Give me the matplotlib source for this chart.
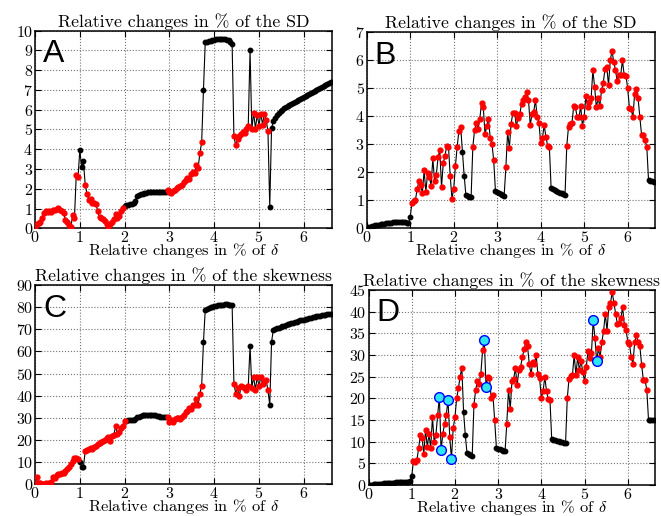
import numpy as np
import matplotlib
matplotlib.use("Agg")
import matplotlib.pyplot as plt

plt.rcParams['font.family'] = 'serif'
plt.rcParams['font.serif'] = ['cmr10', 'DejaVu Serif']
plt.rcParams['mathtext.fontset'] = 'cm'
plt.rcParams['axes.formatter.use_mathtext'] = True

# relative change of delta in %, one sample every 0.04
delta = np.round(np.arange(166) * 0.04, 2)

# --- panel A: relative change of the SD (%)
sd_A = [0.0, 0.2, 0.25, 0.3, 0.5, 0.76, 0.85, 0.8, 0.87, 0.82,
        0.95, 0.9, 1.0, 1.05, 0.9, 0.85, 0.76, 0.4, 0.34, 0.15,
        0.05, 0.67, 0.5, 2.7, 2.6, 3.95, 3.1, 3.4, 2.2, 1.75,
        1.45, 1.5, 1.3, 1.3, 1.25, 0.85, 0.55, 0.5, 0.45, 0.35,
        0.2, 0.05, 0.2, 0.3, 0.45, 0.7, 0.5, 0.6, 0.85, 1.05,
        1.15, 1.18, 1.2, 1.22, 1.24, 1.28, 1.38, 1.62, 1.7, 1.73,
        1.76, 1.78, 1.8, 1.82, 1.83, 1.84, 1.85, 1.86, 1.86, 1.86,
        1.86, 1.85, 1.84, 1.83, 1.95, 1.85, 1.8, 1.9, 1.95, 2.05,
        2.1, 2.15, 2.2, 2.35, 2.45, 2.55, 2.5, 2.75, 2.85, 2.8,
        3.2, 3.05, 3.8, 4.35, 7.0, 9.42, 9.45, 9.48, 9.5, 9.52,
        9.54, 9.56, 9.57, 9.58, 9.58, 9.58, 9.57, 9.55, 9.52, 9.45,
        9.32, 4.65, 4.2, 4.5, 4.65, 4.75, 4.85, 4.8, 5.0, 5.2,
        9.0, 5.0, 5.85, 5.05, 5.75, 5.2, 5.8, 5.25, 5.8, 5.5,
        4.9, 1.1, 5.06, 5.42, 5.6, 5.72, 5.83, 5.92, 6.0, 6.07,
        6.13, 6.19, 6.25, 6.31, 6.36, 6.41, 6.46, 6.51, 6.56, 6.61,
        6.66, 6.71, 6.76, 6.81, 6.86, 6.91, 6.96, 7.01, 7.06, 7.11,
        7.16, 7.21, 7.26, 7.3, 7.35, 7.39]
# 1 = red point, 0 = black point
flag_A = ("1111111111" "1111111111" "1111100011" "1111111111" "1111111111"
          "0000000000" "0000000000" "0000111111" "1111111111" "1111000000"
          "0000000000" "0111111111" "0111111111" "1000000000" "0000000000"
          "0000000000" "000000")

# --- panel B: relative change of the SD (%)
sd_B = [0.0, 0.015, 0.03, 0.05, 0.065, 0.08, 0.095, 0.11, 0.12, 0.135,
        0.145, 0.155, 0.165, 0.175, 0.18, 0.19, 0.195, 0.2, 0.205, 0.21,
        0.21, 0.205, 0.2, 0.18, 0.16, 0.38, 0.9, 0.95, 1.0, 1.38,
        1.67, 1.52, 1.25, 2.05, 1.28, 1.96, 1.82, 1.51, 2.48, 1.67,
        1.88, 2.53, 2.77, 1.45, 2.31, 2.58, 2.94, 2.9, 1.85, 1.04,
        1.4, 2.22, 2.9, 3.48, 3.62, 2.73, 1.87, 1.17, 1.14, 1.11,
        1.09, 2.9, 3.5, 3.74, 3.53, 3.9, 4.46, 4.34, 3.34, 3.66,
        3.9, 3.22, 3.0, 2.41, 1.31, 1.27, 1.24, 1.21, 1.18, 1.15,
        2.17, 3.43, 2.85, 3.72, 4.12, 4.12, 3.65, 3.92, 4.08, 4.42,
        4.57, 4.69, 4.87, 4.57, 3.68, 4.06, 4.16, 4.57, 3.98, 3.75,
        3.03, 3.2, 3.68, 3.26, 2.93, 2.89, 1.41, 1.38, 1.35, 1.32,
        1.29, 1.26, 1.23, 1.2, 1.17, 2.93, 3.62, 3.7, 3.76, 4.36,
        4.31, 3.95, 3.95, 4.36, 3.65, 3.98, 4.72, 4.31, 4.51, 4.63,
        5.64, 5.05, 4.31, 4.63, 4.36, 4.93, 5.2, 5.7, 5.76, 5.1,
        6.0, 6.33, 5.95, 5.64, 5.26, 5.47, 5.47, 6.0, 5.47, 5.45,
        5.0, 4.3, 4.27, 3.95, 4.79, 4.96, 4.63, 3.98, 3.32, 3.32,
        3.14, 2.9, 1.71, 1.69, 1.67, 1.65]
flag_B = ("0000000000" "0000000000" "0000001111" "1111111111" "1111111111"
          "1111100000" "0111111111" "1111000000" "1111111111" "1111111111"
          "1111110000" "0000011111" "1111111111" "1111111111" "1111111111"
          "1111111111" "110000")

# --- panel C: relative change of the skewness (%)
sk_C = [0.5, 3.2, 0.8, 0.5, 0.3, 0.2, 0.4, 0.3, 0.6, 1.2,
        3.5, 3.0, 4.0, 4.5, 4.8, 5.0, 5.2, 6.0, 6.8, 7.8,
        9.0, 10.5, 11.8, 12.0, 11.5, 10.3, 7.8, 7.8, 15.0, 15.3,
        15.8, 16.5, 16.0, 17.0, 17.5, 18.0, 18.5, 19.0, 19.5, 20.2,
        20.8, 21.5, 19.5, 22.0, 22.3, 26.3, 22.8, 23.5, 25.3, 26.5,
        28.5, 28.8, 28.9, 29.0, 29.0, 29.2, 29.6, 30.2, 30.6, 30.9,
        31.1, 31.3, 31.4, 31.5, 31.5, 31.4, 31.3, 31.1, 30.9, 30.7,
        30.5, 30.4, 30.3, 30.2, 30.5, 28.0, 29.0, 28.0, 29.5, 30.0,
        30.0, 29.5, 30.5, 31.3, 32.5, 33.0, 34.3, 34.0, 35.8, 36.0,
        38.5, 36.0, 41.0, 44.5, 64.3, 78.8, 79.3, 79.7, 80.0, 80.3,
        80.5, 80.7, 80.9, 81.0, 81.1, 81.2, 81.3, 81.3, 81.2, 81.0,
        80.8, 45.5, 41.0, 43.7, 39.8, 44.3, 44.0, 43.7, 42.8, 44.5,
        62.4, 43.7, 48.5, 42.8, 48.5, 44.3, 48.5, 45.5, 46.3, 47.0,
        42.5, 35.8, 64.3, 69.8, 70.1, 70.4, 70.8, 71.1, 71.4, 71.7,
        72.0, 72.3, 72.5, 72.8, 73.0, 73.3, 73.5, 73.7, 74.0, 74.2,
        74.4, 74.6, 74.8, 75.0, 75.2, 75.4, 75.6, 75.8, 76.0, 76.1,
        76.3, 76.5, 76.6, 76.8, 76.9, 77.0]
flag_C = ("1111111111" "1111111111" "1111100011" "1111111111" "1111111111"
          "1000000000" "0000000000" "0000111111" "1111111111" "1111000000"
          "0000000000" "0111111111" "0111111111" "1000000000" "0000000000"
          "0000000000" "000000")

# --- panel D: relative change of the skewness (%)
sk_D = [0.0, 0.05, 0.09, 0.13, 0.17, 0.21, 0.25, 0.29, 0.32, 0.36,
        0.4, 0.43, 0.46, 0.5, 0.53, 0.56, 0.59, 0.62, 0.65, 0.68,
        0.71, 0.74, 0.77, 0.8, 0.82, 2.0, 5.6, 5.4, 5.8, 8.5,
        11.5, 10.8, 7.2, 12.8, 8.8, 11.7, 8.6, 15.7, 9.9, 11.6,
        16.1, 20.3, 8.0, 11.8, 14.1, 16.1, 19.7, 11.1, 6.1, 13.1,
        15.6, 20.0, 22.3, 25.0, 27.1, 16.9, 11.5, 7.3, 7.1, 6.9,
        6.7, 18.5, 21.9, 24.0, 23.3, 25.7, 31.1, 33.4, 22.6, 25.0,
        24.7, 20.0, 20.7, 14.9, 8.5, 8.4, 8.2, 8.1, 7.9, 7.8,
        14.1, 22.0, 17.5, 24.0, 24.5, 27.0, 23.0, 26.6, 27.3, 29.5,
        31.3, 33.0, 32.0, 28.0, 25.5, 28.3, 28.0, 30.0, 25.6, 24.6,
        20.0, 21.6, 25.0, 21.6, 19.8, 19.6, 10.5, 10.4, 10.3, 10.2,
        10.1, 10.0, 9.9, 9.75, 9.6, 20.0, 24.5, 25.2, 25.4, 30.0,
        25.4, 29.5, 26.6, 28.6, 26.0, 24.0, 27.2, 31.0, 29.2, 30.5,
        38.0, 34.0, 28.5, 31.5, 29.5, 33.0, 35.5, 39.5, 35.6, 41.0,
        42.0, 44.5, 42.0, 39.5, 37.2, 37.4, 38.5, 41.0, 37.0, 35.8,
        33.1, 32.5, 29.5, 28.0, 33.0, 34.6, 33.0, 32.0, 27.8, 24.3,
        24.2, 22.0, 15.1, 15.0, 15.0, 14.9]
# 2 = highlighted (cyan) point
flag_D = ("0000000000" "0000000000" "0000001111" "1111111111" "1221112121"
          "1111100000" "0111111221" "1111000000" "1111111111" "1111111111"
          "1111110000" "0000011111" "1111111111" "2121111111" "1111111111"
          "1111111111" "110000")

title_sd = "Relative changes in % of the SD"
title_sk = "Relative changes in % of the skewness"
xlab = r"Relative changes in % of $\delta$"


def draw(ax, y, flags, letter, title, ymax, ystep):
    y = np.asarray(y)
    f = np.array([int(c) for c in flags])
    ax.plot(delta, y, color="k", lw=0.8, zorder=2)
    ax.plot(delta[f == 0], y[f == 0], "o", ms=3.2, color="k", zorder=3)
    ax.plot(delta[f == 1], y[f == 1], "o", ms=3.5, color="r", mec="r", zorder=3)
    if (f == 2).any():
        ax.plot(delta[f == 2], y[f == 2], "o", ms=7, mfc="#2ee6f2", mec="b",
                mew=1.0, zorder=4)
    ax.set_xlim(0, 6.63)
    ax.set_ylim(0, ymax)
    ax.set_xticks(range(7))
    ax.set_yticks(np.arange(0, ymax + 0.1, ystep))
    ax.grid(True, linestyle=":", color="0.45", lw=0.8)
    ax.tick_params(direction="in", top=True, right=True, length=4,
                   labelsize=11.5, pad=1.5)
    for s in ax.spines.values():
        s.set_linewidth(1.1)
    ax.set_title(title, fontsize=12.8, pad=3)
    ax.set_xlabel(xlab, fontsize=11.8)
    ax.xaxis.set_label_coords(0.5, -0.066)
    ax.text(0.028, 0.84, letter, transform=ax.transAxes, fontsize=23,
            family="Liberation Sans", va="baseline", ha="left")


fig = plt.figure(figsize=(6.61, 5.16), dpi=100)
axA = fig.add_axes([0.053, 0.5576, 0.4493, 0.3829])
axB = fig.add_axes([0.5548, 0.5587, 0.4362, 0.3787])
axC = fig.add_axes([0.053, 0.0614, 0.4493, 0.3862])
axD = fig.add_axes([0.5575, 0.0601, 0.4334, 0.3779])

draw(axA, sd_A, flag_A, "A", title_sd, 10, 1)
draw(axB, sd_B, flag_B, "B", title_sd, 7, 1)
draw(axC, sk_C, flag_C, "C", title_sk, 90, 10)
draw(axD, sk_D, flag_D, "D", title_sk, 45, 5)

fig.savefig("out.png", dpi=100)
